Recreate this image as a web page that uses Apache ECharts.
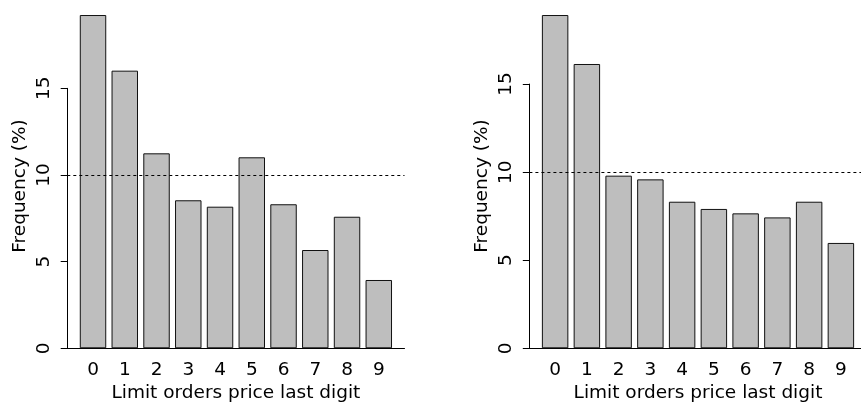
<!DOCTYPE html>
<html>
<head>
<meta charset="utf-8">
<script src="https://cdn.jsdelivr.net/npm/echarts@6/dist/echarts.min.js"></script>
<style>
html,body{margin:0;padding:0;background:#fff;}
#chart{width:861px;height:405px;}
</style>
</head>
<body>
<div id="chart"></div>
<script>
// ---- data ----
const categories = ['0','1','2','3','4','5','6','7','8','9'];
const leftValues = [19.23, 16.02, 11.25, 8.54, 8.17, 11.02, 8.31, 5.67, 7.59, 3.94];
const rightValues = [18.92, 16.14, 9.80, 9.59, 8.32, 7.91, 7.66, 7.43, 8.32, 5.98];
const yTicks = [0, 5, 10, 15];
const refLevel = 10;
const xTitle = 'Limit orders price last digit';
const yTitle = 'Frequency (%)';

// ---- layout ----
const FONT = 'DejaVu Sans';
const FS = 18.5;
const regionTop = 1.7, regionBottom = 361.6;
const H = regionBottom - regionTop;
const unit = 26.46; // px per bar width
const yTitleCenter = 186;
const panels = [
  { regionLeft: 67.3, values: leftValues },
  { regionLeft: 529.4, values: rightValues }
];

const grid = [], xAxis = [], yAxis = [], series = [];
panels.forEach((p, i) => {
  const maxV = Math.max(...p.values);
  const lo = -0.04 * maxV, hi = 1.04 * maxV;
  const ppu = H / (hi - lo);
  const zeroY = regionBottom + lo * ppu;
  const tickMax = yTicks[yTicks.length - 1];
  const tickStep = yTicks[1] - yTicks[0];
  const gA = grid.length, gB = gA + 1, gC = gA + 2;
  const common = { outerBoundsMode: 'none', containLabel: false };
  // grid A: bars
  grid.push(Object.assign({ left: p.regionLeft + 0.372 * unit, width: 12 * unit, top: regionTop, height: zeroY - regionTop }, common));
  // grid B: axis decorations
  grid.push(Object.assign({ left: p.regionLeft, width: 12.744 * unit, top: zeroY - tickMax * ppu, height: tickMax * ppu }, common));
  // grid C: y title holder
  grid.push(Object.assign({ left: p.regionLeft, width: 12.744 * unit, top: regionTop, height: 2 * (yTitleCenter - regionTop) }, common));

  xAxis.push({
    gridIndex: gA, type: 'category', data: categories, boundaryGap: true,
    axisLine: { show: false }, axisTick: { show: false }, splitLine: { show: false },
    axisLabel: { color: '#000', fontFamily: FONT, fontSize: FS, margin: 12 },
    name: xTitle, nameLocation: 'middle', nameGap: 35,
    nameTextStyle: { color: '#000', fontFamily: FONT, fontSize: FS }
  });
  xAxis.push({
    gridIndex: gB, type: 'value', min: 0, max: 1,
    axisLine: { show: true, onZero: false, lineStyle: { color: '#000', width: 1 } },
    axisTick: { show: false }, axisLabel: { show: false }, splitLine: { show: false }
  });
  xAxis.push({ gridIndex: gC, type: 'value', min: 0, max: 1, show: false });

  yAxis.push({
    gridIndex: gA, type: 'value', min: 0, max: hi,
    axisLine: { show: false }, axisTick: { show: false }, axisLabel: { show: false }, splitLine: { show: false }
  });
  yAxis.push({
    gridIndex: gB, type: 'value', min: yTicks[0], max: tickMax, interval: tickStep,
    axisLine: { show: true, onZero: false, lineStyle: { color: '#000', width: 1 } },
    axisTick: { show: true, length: 6.6, lineStyle: { color: '#000', width: 1 } },
    axisLabel: { rotate: 90, margin: 13.5, color: '#000', fontFamily: FONT, fontSize: FS },
    splitLine: { show: false }
  });
  yAxis.push({
    gridIndex: gC, type: 'value', min: 0, max: 1,
    axisLine: { show: false }, axisTick: { show: false }, axisLabel: { show: false }, splitLine: { show: false },
    name: yTitle, nameLocation: 'middle', nameRotate: 90, nameGap: 38,
    nameTextStyle: { color: '#000', fontFamily: FONT, fontSize: FS }
  });

  series.push({
    type: 'bar', xAxisIndex: gA, yAxisIndex: gA, data: p.values,
    barCategoryGap: '16.667%',
    itemStyle: { color: '#bebebe', borderColor: '#111', borderWidth: 1 },
    silent: true
  });
  series.push({
    type: 'line', xAxisIndex: gB, yAxisIndex: gB, data: [],
    markLine: {
      silent: true, symbol: ['none', 'none'], label: { show: false },
      lineStyle: { type: [3, 3], color: '#000', width: 1 },
      data: [{ yAxis: refLevel }]
    }
  });
});

const chart = echarts.init(document.getElementById('chart'), null, { renderer: 'canvas' });
chart.setOption({ animation: false, backgroundColor: '#fff', grid, xAxis, yAxis, series });
</script>
</body>
</html>
